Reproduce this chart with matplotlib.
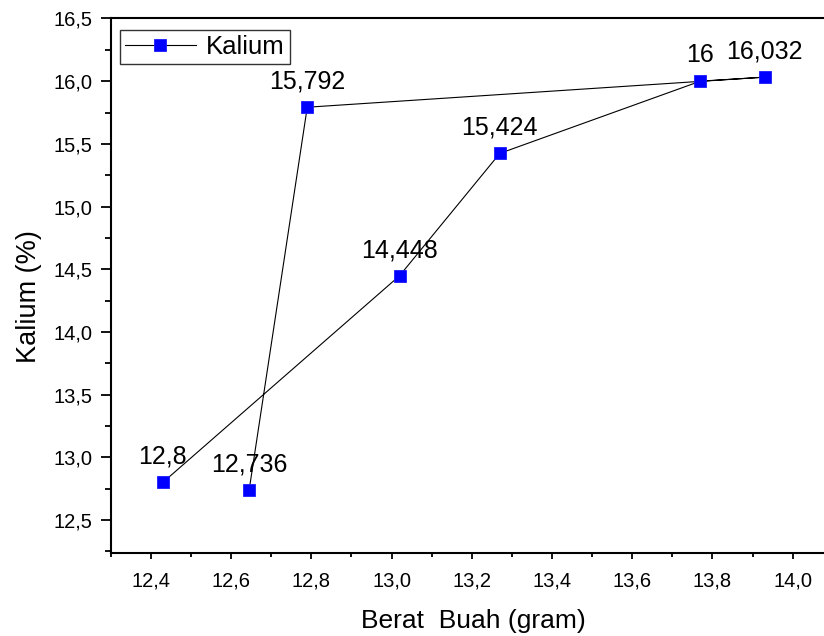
import matplotlib.pyplot as plt
from matplotlib.ticker import MultipleLocator, FuncFormatter

plt.rcParams['font.family'] = ['Liberation Sans', 'DejaVu Sans']

# data in plotting order (Origin connects them as entered)
berat = [12.43, 13.02, 13.27, 13.77, 13.93, 12.79, 12.645]
kalium = [12.8, 14.448, 15.424, 16.0, 16.032, 15.792, 12.736]
labels = ['12,8', '14,448', '15,424', '16', '16,032', '15,792', '12,736']


def koma(v, pos):
    return ('%.1f' % v).replace('.', ',')


fig = plt.figure(figsize=(8.24, 6.36), dpi=100)
ax = fig.add_axes([0.1343, 0.131, 0.8657, 0.840])

ax.plot(berat, kalium, color='black', linewidth=0.8, marker='s',
        markersize=8.5, markerfacecolor='#0000ff', markeredgecolor='#1a1aff',
        markeredgewidth=0.6, label='Kalium')

for x, y, t in zip(berat, kalium, labels):
    ax.annotate(t, (x, y), xytext=(0, 13.5), textcoords='offset points',
                ha='center', va='baseline', fontsize=18)

ax.set_xlim(12.3, 14.078)
ax.set_ylim(12.24, 16.5)

ax.xaxis.set_major_locator(MultipleLocator(0.2))
ax.xaxis.set_minor_locator(MultipleLocator(0.1))
ax.yaxis.set_major_locator(MultipleLocator(0.5))
ax.yaxis.set_minor_locator(MultipleLocator(0.25))
ax.xaxis.set_major_formatter(FuncFormatter(koma))
ax.yaxis.set_major_formatter(FuncFormatter(koma))

ax.tick_params(which='major', direction='out', width=1.3, labelsize=14.5)
ax.tick_params(axis='x', which='major', length=4.5, pad=9)
ax.tick_params(axis='y', which='major', length=7, pad=6)
ax.tick_params(axis='x', which='minor', direction='out', length=3, width=1.3)
ax.tick_params(axis='y', which='minor', direction='out', length=4, width=1.3)

ax.spines['right'].set_visible(False)
for s in ['left', 'bottom', 'top']:
    ax.spines[s].set_linewidth(1.5)

ax.set_xlabel('Berat  Buah (gram)', fontsize=19, labelpad=12)
ax.set_ylabel('Kalium (%)', fontsize=19.5, labelpad=8)
ax.xaxis.set_label_coords(0.509, -0.105)
ax.yaxis.set_label_coords(-0.096, 0.479)

leg = ax.legend(loc='upper left', bbox_to_anchor=(0.013, 0.9785),
                borderaxespad=0, fontsize=18.5, frameon=True, fancybox=False,
                borderpad=0.2, handlelength=2.75, handletextpad=0.4)
leg.get_frame().set_edgecolor('black')
leg.get_frame().set_linewidth(1.0)

fig.savefig('out.png', dpi=100)
